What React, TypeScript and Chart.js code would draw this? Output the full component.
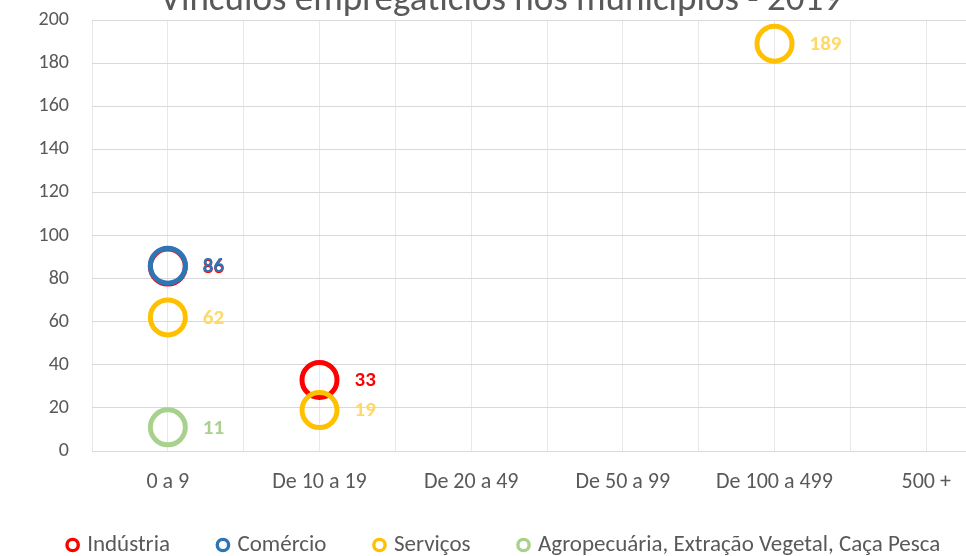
import React, { useEffect, useRef } from "react";
import { Chart, registerables } from "chart.js";

Chart.register(...registerables);

const title = "Vínculos empregatícios nos municípios - 2019";
const categories = ["0 a 9", "De 10 a 19", "De 20 a 49", "De 50 a 99", "De 100 a 499", "500 +"];
const yTicks = [0, 20, 40, 60, 80, 100, 120, 140, 160, 180, 200];

const seriesNames = ["Indústria", "Comércio", "Serviços", "Agropecuária, Extração Vegetal, Caça Pesca"];
const industriaCats = [0, 1];
const industriaValues = [85.6, 33];
const comercioCats = [0];
const comercioValues = [86];
const servicosCats = [0, 1, 4];
const servicosValues = [62, 19, 189];
const agroCats = [0];
const agroValues = [11];

const ringColors = ["#FF0000", "#2E75B6", "#FFC000", "#A9D18E"];
const labelColors = ["#FF0000", "#2E75B6", "#FFD966", "#A9D18E"];

const FONT = "Carlito, Lato, sans-serif";
const W = 1002;
const H = 601;
const TOP = -21;
const LEGEND_FONT = 23;
const LEGEND_PAD = 50;
const LEGEND_CENTER_Y = 566;
const LEGEND_SHIFT_X = 4;

function pts(cats: number[], vals: number[]) {
  return cats.map((c, i) => ({ x: c, y: vals[i] }));
}

const labelPlugin = {
  id: "valueLabels",
  afterLayout(chart: any) {
    const lg = chart.legend;
    if (lg) {
      const h = lg.height;
      lg.top = LEGEND_CENTER_Y - LEGEND_FONT / 2 - LEGEND_PAD;
      lg.bottom = lg.top + h;
      lg.left += LEGEND_SHIFT_X;
      lg.right += LEGEND_SHIFT_X;
    }
  },
  afterDatasetsDraw(chart: any) {
    const ctx = chart.ctx;
    ctx.save();
    ctx.font = `bold 21px ${FONT}`;
    ctx.textAlign = "left";
    ctx.textBaseline = "middle";
    chart.data.datasets.forEach((ds: any, i: number) => {
      const meta = chart.getDatasetMeta(i);
      ctx.fillStyle = labelColors[i];
      meta.data.forEach((el: any, j: number) => {
        const v = ds.data[j].y;
        ctx.fillText(String(Math.round(v)), el.x + 35, el.y + 1);
      });
    });
    ctx.restore();
  },
};

export default function App() {
  const ref = useRef<HTMLCanvasElement>(null);
  useEffect(() => {
    if (!ref.current) return;
    const allData = [
      pts(industriaCats, industriaValues),
      pts(comercioCats, comercioValues),
      pts(servicosCats, servicosValues),
      pts(agroCats, agroValues),
    ];
    const chart = new Chart(ref.current, {
      type: "scatter",
      data: {
        datasets: allData.map((d, i) => ({
          label: seriesNames[i],
          data: d,
          borderColor: ringColors[i],
          backgroundColor: "rgba(255,255,255,0)",
          pointBackgroundColor: "rgba(255,255,255,0)",
          pointBorderColor: ringColors[i],
          pointRadius: 17.5,
          pointHoverRadius: 17.5,
          pointBorderWidth: 5,
          borderWidth: 5,
          order: 4 - i,
        })),
      },
      options: {
        animation: false,
        responsive: false,
        maintainAspectRatio: false,
        layout: { autoPadding: false, padding: { left: 0, right: 0, top: 0, bottom: 0 } },
        plugins: {
          tooltip: { enabled: false },
          title: {
            display: true,
            text: title,
            color: "#595959",
            font: { family: FONT, size: 37, weight: "normal" },
            padding: { top: 0, bottom: -3.4 },
          },
          legend: {
            position: "bottom",
            labels: {
              usePointStyle: true,
              boxWidth: 6,
              boxHeight: 8,
              padding: LEGEND_PAD,
              color: "#595959",
              font: { family: FONT, size: LEGEND_FONT },
              generateLabels(chart: any) {
                const items = Chart.defaults.plugins.legend.labels.generateLabels(chart);
                return items
                  .slice()
                  .sort((a: any, b: any) => a.datasetIndex - b.datasetIndex)
                  .map((it: any) => ({
                    ...it,
                    fillStyle: "#FFFFFF",
                    strokeStyle: ringColors[it.datasetIndex],
                    lineWidth: 3.4,
                    pointStyle: "circle",
                  }));
              },
            },
          },
        },
        scales: {
          x: {
            type: "linear",
            min: -0.5,
            max: 5.5,
            afterBuildTicks(scale: any) {
              const t = [];
              for (let k = 0; k <= 12; k++) t.push({ value: -0.5 + k * 0.5 });
              scale.ticks = t;
            },
            afterFit(scale: any) {
              scale.height = 46;
              scale.paddingLeft = 0;
              scale.paddingRight = 0;
            },
            ticks: {
              autoSkip: false,
              maxRotation: 0,
              minRotation: 0,
              padding: 18,
              color: "#595959",
              font: { family: FONT, size: 22 },
              callback(v: any) {
                const n = Number(v);
                return Number.isInteger(n) ? categories[n] ?? "" : "";
              },
            },
            grid: { color: "#E8E8E8", lineWidth: 1, drawTicks: false },
            border: { display: true, color: "#D9D9D9", width: 1 },
          },
          y: {
            min: 0,
            max: 200,
            afterBuildTicks(scale: any) {
              scale.ticks = yTicks.map((v) => ({ value: v }));
            },
            afterFit(scale: any) {
              scale.width = 92;
            },
            ticks: {
              padding: 23,
              color: "#595959",
              font: { family: FONT, size: 20 },
            },
            grid: { color: "#D9D9D9", lineWidth: 1, drawTicks: false },
            border: { display: false },
          },
        },
      },
      plugins: [labelPlugin],
    } as any);
    return () => chart.destroy();
  }, []);

  return (
    <div style={{ position: "fixed", left: 0, top: 0, width: 966, height: 556, overflow: "hidden", background: "#fff" }}>
      <div style={{ position: "absolute", left: 0, top: TOP, width: W, height: H + 1 }}>
        <canvas ref={ref} width={W} height={H} style={{ width: W, height: H, display: "block" }} />
      </div>
    </div>
  );
}
